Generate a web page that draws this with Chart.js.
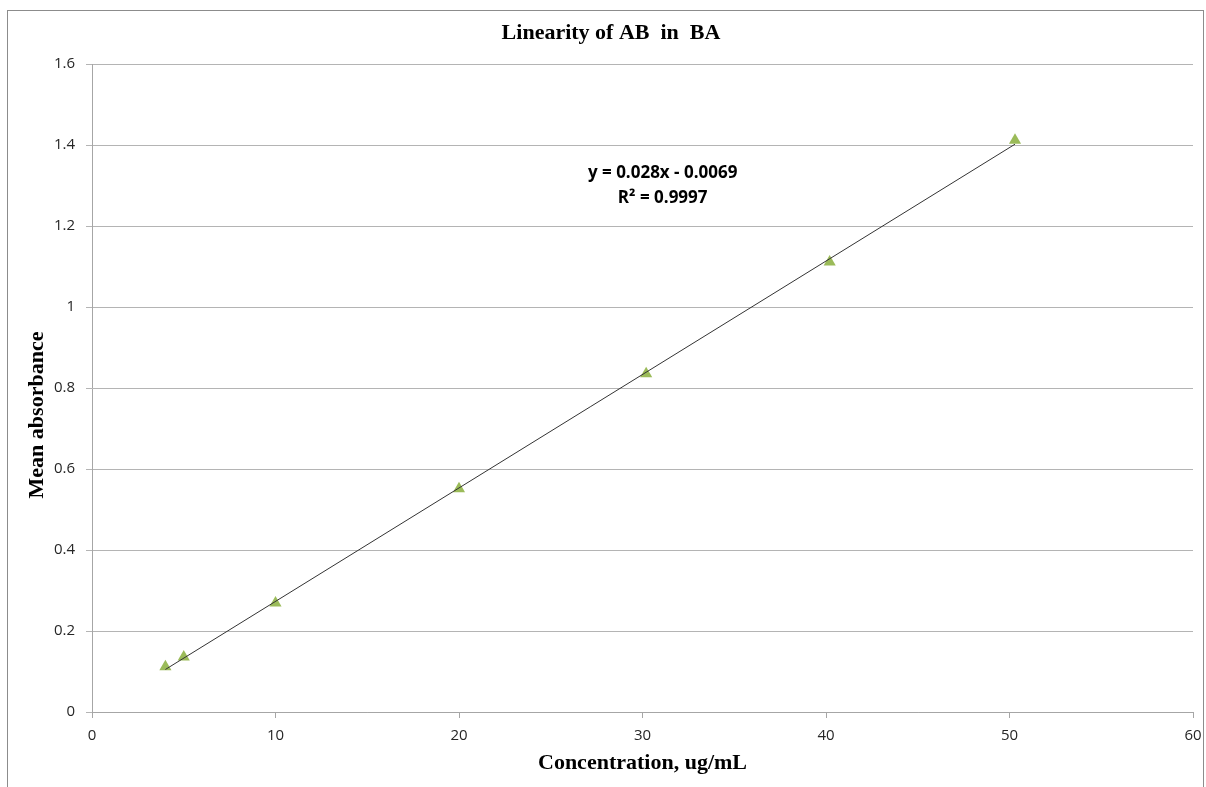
<!DOCTYPE html>
<html>
<head>
<meta charset="utf-8">
<script src="https://cdn.jsdelivr.net/npm/chart.js@4"></script>
<style>
  html, body { margin: 0; padding: 0; background: #fff; }
  #wrap { width: 1206px; height: 787px; position: relative; }
</style>
</head>
<body>
<div id="wrap"><canvas id="chart" width="1206" height="787"></canvas></div>
<script>
"use strict"
// concentration (ug/mL) and mean absorbance
var concentration = [4, 5, 10, 20, 30.2, 40.2, 50.3];
var absorbance = [0.112, 0.136, 0.269, 0.551, 0.835, 1.111, 1.412];
// trendline ends as drawn
var trendX = [4, 50.3];
var trendY = [0.105, 1.402];
var equationLines = ['y = 0.028x - 0.0069', 'R\u00b2 = 0.9997'];
var chartTitle = 'Linearity of AB  in  BA';
var yTitle = 'Mean absorbance';
var xTitle = 'Concentration, ug/mL';

function toPoints(xs, ys){
  var out = [];
  for (var i = 0; i < xs.length; i++) out.push({x: xs[i], y: ys[i]});
  return out;
}

var serif = '"Liberation Serif", "Times New Roman", serif';
var sans = '"Open Sans", sans-serif';

var frame = {
  id: 'frame',
  beforeDraw: function(chart){
    var c = chart.ctx;
    c.save();
    c.strokeStyle = '#8c8c8c';
    c.lineWidth = 1;
    c.strokeRect(7.5, 10.5, 1196, 790);
    c.restore();
  },
  afterDraw: function(chart){
    var c = chart.ctx, sx = chart.scales.x, sy = chart.scales.y;
    c.save();
    c.fillStyle = '#000';
    c.textAlign = 'center';
    c.textBaseline = 'middle';
    // chart title
    c.font = 'bold 22px ' + serif;
    c.fillText(chartTitle, 611, 33);
    // trendline label
    var px = sx.getPixelForValue(31.1);
    c.font = 'bold 17px ' + sans;
    c.fillText(equationLines[0], px, sy.getPixelForValue(1.331));
    c.fillText(equationLines[1], px, sy.getPixelForValue(1.269));
    // y axis title
    c.translate(37, 415);
    c.rotate(-Math.PI / 2);
    c.font = 'bold 22px ' + serif;
    c.fillText(yTitle, 0, 0);
    c.restore();
  }
};

new Chart(document.getElementById('chart').getContext('2d'), {
  type: 'scatter',
  data: {
    datasets: [{
      label: 'Mean absorbance',
      data: toPoints(concentration, absorbance),
      pointStyle: 'triangle',
      pointRadius: 7,
      pointHoverRadius: 7,
      backgroundColor: '#9bbb59',
      borderColor: '#9bbb59',
      borderWidth: 0,
      order: 2
    }, {
      label: 'Linear',
      type: 'line',
      data: toPoints(trendX, trendY),
      borderColor: '#333333',
      borderWidth: 1,
      pointRadius: 0,
      fill: false,
      order: 1
    }]
  },
  options: {
    responsive: false,
    animation: false,
    layout: { padding: { left: 0, right: 13, top: 64, bottom: 0 } },
    plugins: {
      legend: { display: false },
      tooltip: { enabled: false },
      title: { display: false }
    },
    scales: {
      x: {
        type: 'linear',
        min: 0, max: 60,
        ticks: { stepSize: 10, color: '#262626', padding: 9,
          font: { family: sans, size: 15 } },
        grid: { drawOnChartArea: false, tickLength: 6, color: '#a6a6a6' },
        border: { color: '#a6a6a6' },
        title: {
          display: true,
          text: xTitle,
          color: '#000',
          font: { family: serif, size: 22, weight: 'bold' },
          padding: { top: 4, bottom: 10 }
        },
        afterFit: function(s){ s.height = 75; s.paddingLeft = 0; s.paddingRight = 0; }
      },
      y: {
        min: 0, max: 1.6,
        ticks: { stepSize: 0.2, color: '#262626', padding: 11,
          font: { family: sans, size: 15 },
          callback: function(v){ return Math.round(v * 10) / 10; } },
        grid: { color: '#b4b4b4', tickLength: 6 },
        border: { color: '#a6a6a6' },
        afterFit: function(s){ s.width = 92; }
      }
    }
  },
  plugins: [frame]
});
</script>
</body>
</html>
